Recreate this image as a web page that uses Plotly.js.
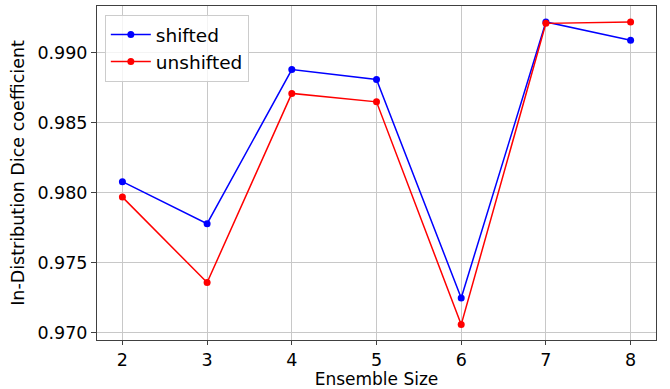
<!DOCTYPE html>
<html>
<head>
<meta charset="utf-8">
<script src="https://cdn.plot.ly/plotly-3.0.1.min.js"></script>
<style>html,body{margin:0;padding:0;background:#fff;}#chart{width:670px;height:389px;}</style>
</head>
<body>
<div id="chart"></div>
<script>
const ensembleSizes = [2, 3, 4, 5, 6, 7, 8];
const shiftedDice = [0.9808, 0.9778, 0.9888, 0.9881, 0.9725, 0.9922, 0.9909];
const unshiftedDice = [0.9797, 0.9736, 0.9871, 0.9865, 0.9706, 0.9921, 0.9922];
const yTickVals = [0.970, 0.975, 0.980, 0.985, 0.990];
const yTickText = ['0.970', '0.975', '0.980', '0.985', '0.990'];

const font = {family: 'DejaVu Sans, sans-serif', size: 17.5, color: '#000'};
const traces = [
  {x: ensembleSizes, y: shiftedDice, name: 'shifted', mode: 'lines+markers',
   line: {color: '#0000ff', width: 1.5}, marker: {color: '#0000ff', size: 7}},
  {x: ensembleSizes, y: unshiftedDice, name: 'unshifted', mode: 'lines+markers',
   line: {color: '#ff0000', width: 1.5}, marker: {color: '#ff0000', size: 7}}
];
const layout = {
  width: 670, height: 389,
  margin: {l: 97, r: 14, t: 6, b: 49},
  paper_bgcolor: '#fff', plot_bgcolor: '#fff',
  font: font,
  showlegend: true,
  legend: {x: 0.014, y: 0.973, xanchor: 'left', yanchor: 'top',
    bgcolor: 'rgba(255,255,255,0.8)', bordercolor: '#cccccc', borderwidth: 1,
    itemwidth: 40,
    font: {family: 'DejaVu Sans, sans-serif', size: 18.5, color: '#000'}},
  xaxis: {range: [1.7, 8.3], tickvals: ensembleSizes, ticktext: ensembleSizes.map(String),
    showgrid: true, gridcolor: '#c8c8c8', gridwidth: 1, zeroline: false,
    showline: true, linecolor: '#404040', linewidth: 1, mirror: true,
    ticks: 'outside', ticklen: 4, tickcolor: '#404040',
    title: {text: 'Ensemble Size', font: {family: 'DejaVu Sans, sans-serif', size: 17, color: '#000'}, standoff: 6}},
  yaxis: {range: [0.9695, 0.99334], tickvals: yTickVals, ticktext: yTickText,
    showgrid: true, gridcolor: '#c8c8c8', gridwidth: 1, zeroline: false,
    showline: true, linecolor: '#404040', linewidth: 1, mirror: true,
    ticks: 'outside', ticklen: 5, tickcolor: '#404040',
    title: {text: 'In-Distribution Dice coefficient', font: font, standoff: 8}}
};
Plotly.newPlot('chart', traces, layout, {displayModeBar: false, staticPlot: true});
</script>
</body>
</html>
